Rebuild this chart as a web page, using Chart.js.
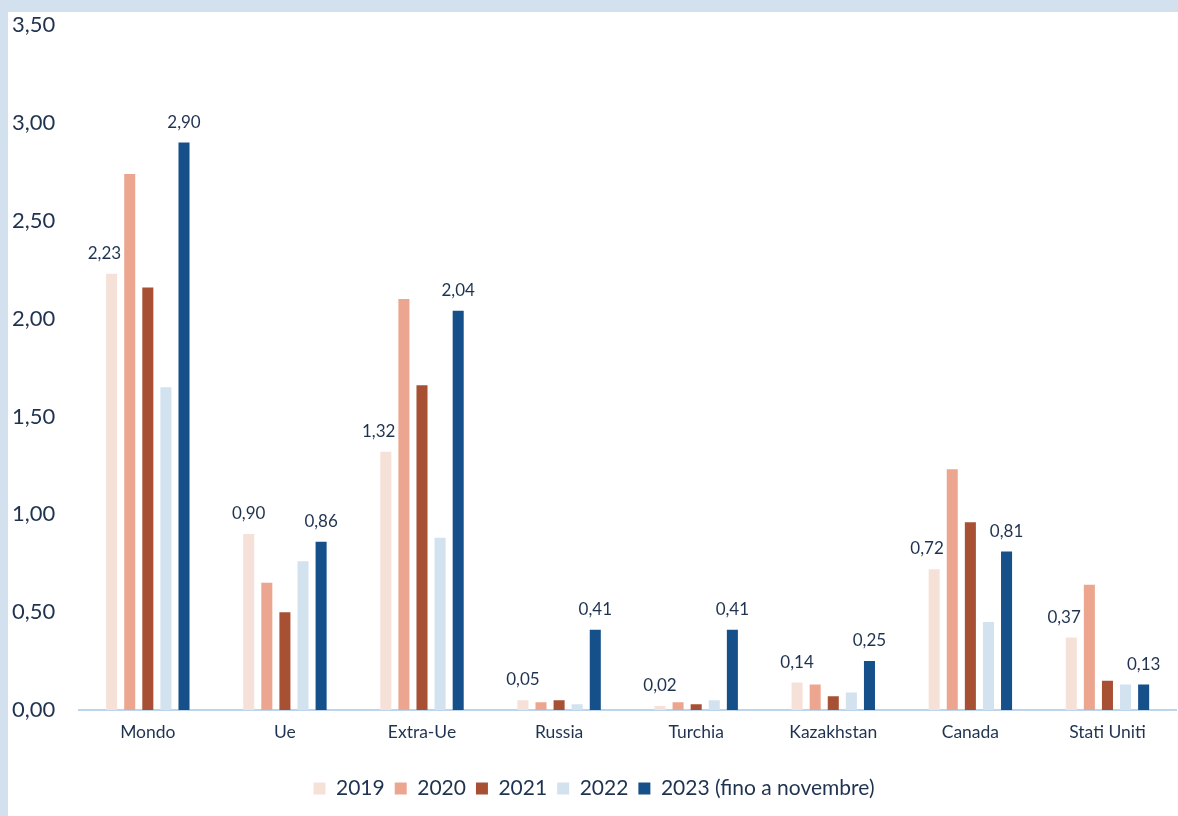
<!DOCTYPE html>
<html>
<head>
<meta charset="utf-8">
<script src="https://cdn.jsdelivr.net/npm/chart.js@4/dist/chart.umd.min.js"></script>
<style>
  html, body { margin: 0; padding: 0; background: #fff; }
  #wrap { position: absolute; left: 8px; top: 0; width: 1170px; height: 816px; }
  .band { position: absolute; background: #d3e1ee; z-index: 2; }
  #bandTop { left: 0; top: 0; width: 1178px; height: 12px; }
  #bandLeft { left: 0; top: 0; width: 8px; height: 816px; }
</style>
</head>
<body>
<div id="bandTop" class="band"></div>
<div id="bandLeft" class="band"></div>
<div id="wrap"><canvas id="myChart"></canvas></div>
<script>
const categories = ['Mondo', 'Ue', 'Extra-Ue', 'Russia', 'Turchia', 'Kazakhstan', 'Canada', 'Stati Uniti'];
const years = ['2019', '2020', '2021', '2022', '2023 (fino a novembre)'];
const v2019 = [2.23, 0.90, 1.32, 0.05, 0.02, 0.14, 0.72, 0.37];
const v2020 = [2.74, 0.65, 2.10, 0.04, 0.04, 0.13, 1.23, 0.64];
const v2021 = [2.16, 0.50, 1.66, 0.05, 0.03, 0.07, 0.96, 0.15];
const v2022 = [1.65, 0.76, 0.88, 0.03, 0.05, 0.09, 0.45, 0.13];
const v2023 = [2.90, 0.86, 2.04, 0.41, 0.41, 0.25, 0.81, 0.13];
const colors = ['#f6e1d9', '#eca690', '#a85034', '#d3e2ef', '#15508a'];
// only the first and last year get value labels
const labelled = [true, false, false, false, true];

const series = [v2019, v2020, v2021, v2022, v2023];
const textColor = '#1f3350';
const fmt = v => v.toFixed(2).replace('.', ',');

// value labels above the bars; a label is pushed left when the next bar would cover it
const valueLabels = {
    id: 'valueLabels',
    afterDatasetsDraw(chart) {
        const ctx = chart.ctx;
        ctx.save();
        ctx.font = '17px Lato';
        ctx.fillStyle = textColor;
        ctx.textAlign = 'center';
        ctx.textBaseline = 'bottom';
        chart.data.datasets.forEach((ds, i) => {
            if (!labelled[i]) return;
            const meta = chart.getDatasetMeta(i);
            const next = chart.data.datasets[i + 1] ? chart.getDatasetMeta(i + 1) : null;
            meta.data.forEach((bar, j) => {
                const text = fmt(ds.data[j]);
                const w = ctx.measureText(text).width;
                const y = bar.y - 12;
                let x = bar.x;
                if (next) {
                    const nb = next.data[j];
                    if (nb.y < y) x = Math.min(x, nb.x - nb.width / 2 - 3 - w / 2);
                }
                ctx.fillText(text, x, y);
            });
        });
        ctx.restore();
    }
};

var context = document.getElementById('myChart');
var myBarChart = new Chart(context, {
    type: 'bar',
    data: {
        labels: categories,
        datasets: series.map((d, i) => ({
            label: years[i],
            data: d,
            backgroundColor: colors[i],
            borderWidth: 0,
            categoryPercentage: 0.66,
            barPercentage: 0.61
        }))
    },
    options: {
        responsive: true,
        maintainAspectRatio: false,
        animation: false,
        layout: { padding: { top: 7, right: 2, bottom: 7, left: 4 } },
        plugins: {
            tooltip: { enabled: false },
            legend: {
                position: 'bottom',
                labels: {
                    color: textColor,
                    font: { family: 'Lato', size: 21 },
                    boxWidth: 12,
                    boxHeight: 12,
                    padding: 10
                }
            }
        },
        scales: {
            y: {
                min: 0,
                max: 3.5,
                grid: { display: false, drawTicks: false },
                border: { display: false },
                ticks: {
                    stepSize: 0.5,
                    color: textColor,
                    font: { family: 'Lato', size: 22 },
                    crossAlign: 'far',
                    padding: 12,
                    callback: v => fmt(v)
                }
            },
            x: {
                grid: { display: false, drawTicks: false },
                border: { display: true, color: '#bcd5ec', width: 2 },
                ticks: {
                    color: textColor,
                    font: { family: 'Lato', size: 17.5 },
                    padding: 12
                },
                // extra room between category names and legend
                afterFit(scale) { scale.height += 13; }
            }
        }
    },
    plugins: [valueLabels]
});
</script>
</body>
</html>
